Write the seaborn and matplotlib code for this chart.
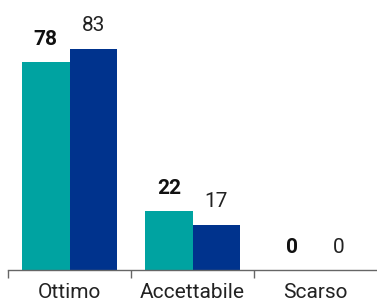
import pandas as pd
import matplotlib
matplotlib.use("Agg")
import matplotlib.pyplot as plt
import seaborn as sns
from matplotlib.ticker import FixedLocator

# ---------------------------------------------------
# Daten
# ---------------------------------------------------
categories = ["Ottimo", "Accettabile", "Scarso"]
series_names = ["Attuale", "Precedente"]
values_current = [78, 22, 0]
values_previous = [83, 17, 0]

TEAL = "#00A3A1"
NAVY = "#00338D"

df = pd.DataFrame({
    "categoria": categories * 2,
    "serie": [series_names[0]] * 3 + [series_names[1]] * 3,
    "valore": values_current + values_previous,
})

sns.set_style("white")
plt.rcParams["font.family"] = ["Roboto", "DejaVu Sans"]

fig = plt.figure(figsize=(3.77, 3.08), dpi=100)
ax = fig.add_axes([8 / 377, 1 - 270 / 308, 1 - 8 / 377, 270 / 308])

sns.barplot(
    data=df, x="categoria", y="valore", hue="serie",
    palette=[TEAL, NAVY], width=0.77, saturation=1,
    legend=False, ax=ax, edgecolor="none", linewidth=0,
)

# Wertebeschriftungen
ax.bar_label(ax.containers[0], padding=9.5, fontsize=15, fontweight="bold", color="#111111")
ax.bar_label(ax.containers[1], padding=9.5, fontsize=15, color="#222222")

ax.set_xlim(-0.5, 2.5)
ax.set_ylim(0, 101.25)
ax.set_xlabel("")
ax.set_ylabel("")
ax.set_yticks([])

for side in ["top", "right", "left"]:
    ax.spines[side].set_visible(False)
ax.spines["bottom"].set_color("#666666")
ax.spines["bottom"].set_linewidth(1)

ax.tick_params(axis="x", which="major", bottom=False, length=0, pad=9,
               labelsize=15, labelcolor="#222222")
ax.xaxis.set_minor_locator(FixedLocator([-0.5, 0.5, 1.5]))
ax.tick_params(axis="x", which="minor", bottom=True, length=6, width=1,
               color="#666666", direction="out")

fig.savefig("out.png", dpi=100)
